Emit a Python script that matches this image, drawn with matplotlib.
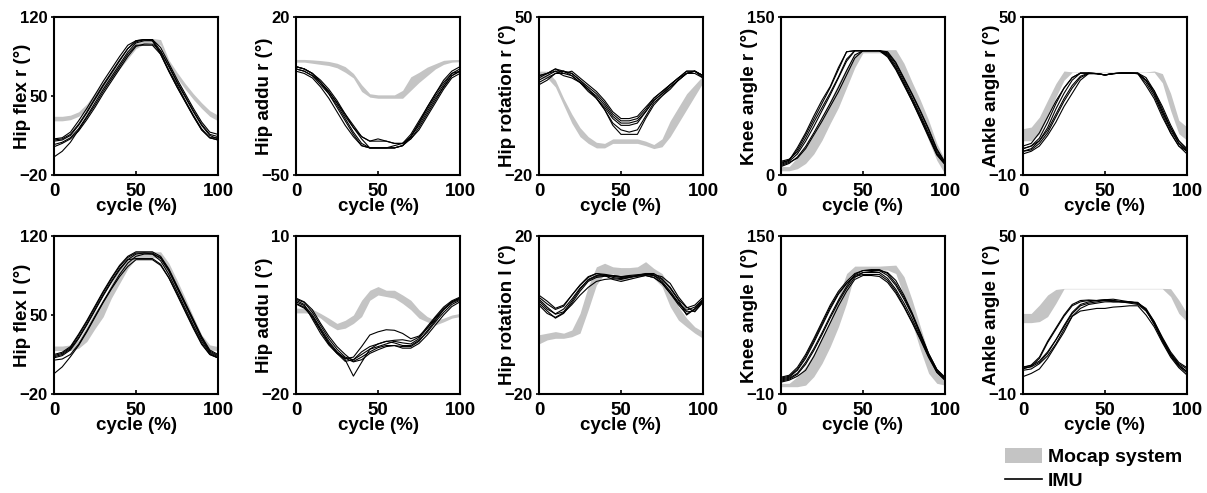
import matplotlib
matplotlib.use("Agg")
import matplotlib.pyplot as plt
from matplotlib.patches import Patch
from matplotlib.lines import Line2D

plt.rcParams['font.family'] = ['Liberation Sans', 'DejaVu Sans']
plt.rcParams['font.weight'] = 'bold'

# gait cycle sample points (%)
cycle = [0, 5, 10, 15, 20, 25, 30, 35, 40, 45, 50, 55, 60, 65, 70, 75, 80, 85, 90, 95, 100]

# ---------------- right side ----------------
hip_flex_r_mocap_lo = [28, 28, 29, 32, 38, 47, 56, 65, 74, 83, 92, 96, 98, 95, 77, 66, 56, 47, 39, 32, 28]
hip_flex_r_mocap_hi = [32, 32, 33, 36, 43, 53, 62, 71, 80, 89, 97, 100, 101, 100, 82, 71, 61, 52, 44, 37, 33]
hip_flex_r_imu = [
    [10, 11, 15, 24, 35, 47, 59, 70, 81, 92, 99, 100, 100, 90, 76, 62, 49, 36, 24, 15, 12],
    [7, 9, 13, 21, 32, 44, 56, 67, 78, 89, 97, 99, 99, 88, 73, 60, 46, 33, 21, 13, 11],
    [12, 13, 18, 28, 39, 51, 63, 74, 85, 95, 99, 100, 99, 87, 72, 58, 45, 32, 20, 13, 13],
    [5, 8, 12, 19, 29, 40, 52, 63, 74, 85, 94, 96, 96, 90, 77, 63, 50, 37, 25, 16, 14],
    [-4, 1, 9, 20, 31, 42, 54, 65, 76, 87, 95, 95, 95, 87, 72, 58, 45, 32, 20, 13, 11],
    [11, 12, 16, 25, 36, 48, 60, 71, 82, 92, 98, 100, 100, 93, 79, 65, 52, 39, 27, 18, 16],
]

hip_addu_r_mocap_lo = [0, 0, -0.5, -1, -1.5, -2.5, -4.5, -7, -13, -15.5, -16, -16, -16, -16, -12.5, -9, -6, -3, -1, 0, 0.2]
hip_addu_r_mocap_hi = [1.2, 1.2, 1, 0.7, 0.3, -0.5, -2, -5, -10, -14, -14.5, -14.5, -14.5, -12.5, -6.5, -4.5, -2.2, -0.7, 0.8, 1.1, 1.2]
hip_addu_r_imu = [
    [-2, -3, -5, -8, -12, -17, -23, -29, -34, -38, -38, -38, -38, -37, -33, -27, -21, -15, -10, -5, -3],
    [-3, -4, -6, -10, -14, -19, -25, -31, -36, -38, -38, -38, -38, -37, -34, -29, -23, -17, -11, -6, -4],
    [-4, -5, -7, -11, -16, -22, -28, -33, -37, -38, -38, -38, -37, -36, -32, -26, -20, -14, -9, -5, -4],
    [-2, -3, -5, -9, -13, -18, -24, -29, -33, -35, -35, -35, -36, -36, -33, -28, -22, -16, -11, -6, -4],
    [-3, -4, -6, -9, -13, -18, -23, -28, -33, -35, -34, -35, -36, -36, -34, -30, -24, -18, -12, -7, -5],
    [-2, -3, -5, -9, -14, -20, -26, -32, -37, -38, -38, -38, -38, -37, -33, -27, -20, -14, -8, -4, -2],
]

hip_rot_r_mocap_lo = [23, 23, 19, 11, 3, -3, -6, -8, -8, -6, -6, -6, -6, -7, -8.3, -7.5, -3, 3, 9, 15, 21]
hip_rot_r_mocap_hi = [26, 26, 22, 14, 7, 1, -3, -5.5, -6, -4, -4, -4, -4, -5, -6.5, -4, 4, 10, 16, 20, 24]
hip_rot_r_imu = [
    [24, 25, 27, 26, 25, 22, 19, 16, 12, 7, 4, 4, 5, 9, 14, 17, 20, 23, 26, 26, 24],
    [22, 24, 26, 26, 24, 21, 18, 15, 11, 6, 3, 3, 4, 8, 13, 16, 19, 22, 25, 26, 24],
    [21, 23, 25, 25, 26, 23, 20, 17, 13, 8, 5, 5, 6, 10, 14, 17, 20, 23, 25, 25, 23],
    [23, 25, 26, 24, 23, 21, 18, 14, 9, 3, 0, -1, 0, 6, 12, 15, 19, 22, 25, 26, 24],
    [20, 22, 25, 26, 25, 22, 18, 14, 9, 2, -2, -2, -2, 5, 11, 15, 18, 22, 25, 26, 24],
    [24, 25, 27, 25, 24, 21, 17, 14, 10, 5, 2, 2, 3, 8, 13, 16, 20, 23, 26, 26, 23],
]

knee_r_mocap_lo = [4, 4, 6, 11, 20, 33, 49, 64, 83, 102, 116, 116, 116, 114, 107, 90, 71, 52, 33, 14, 1]
knee_r_mocap_hi = [8, 8, 17, 27, 39, 55, 71, 87, 102, 115, 119, 119, 119, 119, 119, 106, 88, 71, 52, 30, 14]
knee_r_imu = [
    [12, 14, 24, 38, 53, 68, 83, 100, 117, 118, 118, 118, 118, 117, 107, 92, 77, 61, 44, 25, 12],
    [10, 13, 20, 32, 46, 61, 76, 92, 108, 118, 118, 118, 118, 115, 104, 89, 73, 57, 40, 22, 11],
    [13, 15, 22, 35, 50, 64, 78, 93, 110, 118, 118, 118, 118, 114, 102, 87, 71, 55, 38, 20, 10],
    [8, 11, 17, 27, 40, 54, 68, 83, 99, 114, 118, 118, 118, 112, 100, 85, 70, 54, 37, 20, 11],
    [11, 14, 26, 40, 56, 71, 84, 102, 117, 118, 118, 118, 118, 116, 106, 91, 76, 60, 43, 24, 12],
    [9, 12, 16, 25, 38, 51, 65, 79, 95, 111, 118, 118, 118, 113, 101, 86, 70, 53, 36, 19, 10],
]

ankle_r_mocap_lo = [3, 3, 5.5, 12, 19.5, 26, 29.0, 29.0, 29.0, 29.0, 29.0, 29.0, 29.0, 29.0, 29.0, 29.0, 29.0, 25, 14.5, 5.7, 3.2]
ankle_r_mocap_hi = [7.6, 8.2, 12, 18.4, 24.7, 29.5, 29.15, 29.15, 29.15, 29.15, 29.15, 29.15, 29.15, 29.15, 29.15, 29.15, 29.5, 28.5, 21, 10.8, 8.2]
ankle_r_imu = [
    [0, 1, 4, 10, 17, 23, 27, 28.7, 28.7, 28.5, 28, 28.5, 28.7, 28.7, 28.7, 26, 21, 14, 7, 2, -1],
    [-1, 0, 3, 8, 15, 21, 26, 28.7, 28.7, 28.5, 28, 28.5, 28.7, 28.7, 28.7, 27, 22, 15, 8, 2, -1],
    [1, 2, 6, 12, 18, 23, 27, 28.7, 28.7, 28.5, 28, 28.5, 28.7, 28.7, 28.5, 25, 20, 13, 6, 1, -2],
    [-1, -0.5, 2, 6, 12, 18, 23, 27, 28.5, 28.5, 28, 28.5, 28.7, 28.7, 28.5, 24, 19, 12, 6, 1, -1],
    [0, 1, 3, 7, 13, 19, 24, 27.5, 28.7, 28.5, 28, 28.5, 28.7, 28.7, 28.7, 26, 21, 14, 8, 3, -0.5],
    [-2, -1, 1, 5, 10, 16, 21, 26, 28.5, 28.5, 28, 28.5, 28.7, 28.7, 28.5, 26, 22, 16, 9, 3, 0],
]

# ---------------- left side ----------------
hip_flex_l_mocap_lo = [18.5, 18.5, 18.5, 20.5, 26.5, 38, 48.5, 65, 78, 91, 100, 101, 101, 100, 82.5, 68, 51.5, 37, 23.5, 19, 18.5]
hip_flex_l_mocap_hi = [22.5, 22.5, 23.5, 28, 40, 53, 63, 78, 91, 101.5, 105, 106, 106, 106, 96, 81, 65, 48.5, 32.5, 23.5, 22]
hip_flex_l_imu = [
    [14, 16, 21, 32, 44, 57, 70, 82, 93, 101, 105, 105, 105, 100, 89, 74, 59, 44, 29, 17, 13],
    [12, 14, 19, 29, 41, 54, 67, 79, 90, 99, 104, 105, 104, 98, 86, 71, 56, 41, 27, 16, 12],
    [10, 11, 15, 24, 36, 49, 62, 74, 86, 96, 102, 104, 104, 101, 90, 75, 60, 45, 30, 18, 14],
    [13, 15, 20, 30, 42, 55, 68, 80, 91, 99, 100, 100, 100, 95, 83, 68, 53, 38, 24, 15, 12],
    [-2, 4, 13, 23, 35, 48, 61, 73, 84, 93, 99, 99, 99, 94, 83, 69, 54, 39, 25, 15, 12],
    [15, 17, 22, 33, 45, 58, 71, 83, 94, 102, 106, 106, 106, 102, 91, 76, 61, 46, 31, 19, 15],
]

hip_addu_l_mocap_lo = [-4.6, -4.6, -4.7, -5.6, -6.9, -7.8, -7.5, -6.6, -5.3, -2.2, -1.2, -1.5, -1.8, -2.8, -4, -5.6, -6.3, -6.9, -6.3, -5.6, -5.3]
hip_addu_l_mocap_hi = [-3.7, -3.7, -3.9, -4.7, -5.6, -6.6, -6, -5, -2.2, -0.3, 0.4, -0.3, -0.3, -1.2, -2.2, -4, -5.3, -6, -5.6, -5, -4.7]
hip_addu_l_imu = [
    [-2, -2.6, -4.5, -7, -9.5, -11.5, -13, -13.5, -12.5, -11.5, -11, -10.5, -10, -10.3, -10.5, -9.5, -7.5, -5.5, -3.8, -2.5, -1.8],
    [-1.8, -2.5, -4, -6.6, -9, -11, -12.5, -13.8, -13, -12, -11.2, -10.8, -10.8, -11, -11, -10, -8, -6, -4, -2.7, -2],
    [-2.5, -3.2, -5, -7.5, -10, -12, -13.5, -16.6, -14, -11.5, -10.5, -10, -10.3, -10.8, -10.8, -9.8, -8.3, -6.3, -4.5, -3, -2.2],
    [-2.8, -3.5, -5.5, -8, -10.5, -12.3, -13.8, -13.5, -12, -11, -10.5, -10, -9.8, -9.7, -10, -9.2, -7.2, -5.3, -3.5, -2.3, -1.6],
    [-2.2, -3, -5.8, -8.5, -10.7, -12.3, -13.3, -13, -11, -8.8, -8.2, -7.8, -7.9, -8.5, -9.5, -9, -7.5, -5.8, -4, -2.5, -1.8],
    [-2.9, -3.7, -5.2, -7.8, -10.3, -12, -13.2, -13.9, -13.5, -12.3, -11.6, -11, -10.8, -11.3, -11.3, -10.4, -8.8, -6.9, -5, -3.4, -2.5],
]

hip_rot_l_mocap_lo = [-7.3, -6.3, -5.9, -5.9, -5.5, -4.6, 1.3, 7.6, 10.5, 10.5, 8.6, 9, 9.7, 10.1, 9.3, 7.2, 2.1, -1.3, -3, -4.6, -5.9]
hip_rot_l_mocap_hi = [-5, -4.6, -4.2, -4.6, -3.8, 0.4, 7.2, 12.2, 13.1, 12.2, 12, 12, 12.2, 13.5, 11.8, 10.5, 7.2, 2.1, -0.8, -3, -4.2]
hip_rot_l_imu = [
    [5, 3.5, 1.7, 2.5, 5, 7.5, 9.5, 10.5, 10.3, 10, 9.7, 10, 10.2, 10.4, 10, 9, 7, 4, 1.8, 2.5, 4.5],
    [4, 2, 0.2, 0.8, 3.5, 6.5, 9, 10, 10.2, 9.5, 9.2, 9.5, 10, 10.2, 10, 8.5, 6, 3.2, 1.2, 2, 4],
    [3, 1, -0.8, 0.4, 3, 6, 8.5, 9.5, 9.8, 9.8, 9.5, 9.6, 9.8, 10, 9.5, 8, 5.5, 3, 0.8, 1, 3.5],
    [4.5, 2.8, 1.4, 2.2, 5, 7.6, 9.7, 10.5, 10, 9, 8.5, 9, 9.5, 10, 9.5, 8.2, 5.5, 2.6, 0.2, 1.6, 3.6],
    [2.5, 0.4, -0.6, 0.6, 2.6, 5, 7, 8.5, 9, 9.2, 9, 9.5, 10, 10.3, 10.2, 9.7, 8, 4.6, 2, 0.8, 3.2],
    [3.6, 1.5, 0.3, 1.5, 4, 6.8, 8.8, 9.8, 10, 10, 9.7, 9.8, 10, 10.5, 10.5, 9.2, 6.8, 3.8, 0, 1.5, 3.8],
]

knee_l_mocap_lo = [-2.6, -2.6, -2.6, -1, 7.6, 21, 38, 58, 82, 112, 115.5, 115.5, 115.5, 115.5, 112, 88.6, 61.6, 34.6, 11, 0.8, -1]
knee_l_mocap_hi = [0.8, 0.8, 7.6, 17.7, 31, 48, 65, 88.6, 112, 119.5, 119.5, 119.5, 119.5, 120, 120.5, 108.8, 85, 58, 31, 14, 4.2]
knee_l_imu = [
    [7, 9, 17, 30, 46, 63, 80, 94, 104, 112, 115, 115, 115, 110, 100, 86, 70, 51, 31, 15, 7],
    [5, 7, 14, 26, 42, 59, 76, 91, 102, 110, 113, 113, 113, 107, 96, 82, 66, 48, 29, 14, 6],
    [3, 5, 10, 20, 34, 50, 67, 83, 97, 108, 113, 114, 115, 113, 105, 90, 72, 52, 31, 15, 6],
    [6, 8, 15, 28, 44, 61, 78, 92, 102, 109, 111, 111, 111, 105, 94, 79, 63, 46, 28, 13, 5],
    [4, 6, 11, 22, 36, 52, 69, 85, 99, 111, 115, 116, 116, 112, 102, 88, 71, 50, 29, 12, 4],
    [2, 4, 8, 14, 28, 45, 62, 79, 94, 106, 110, 110, 109, 103, 92, 78, 62, 45, 27, 12, 4],
]

ankle_l_mocap_lo = [17.1, 17.1, 17.5, 19.4, 24.4, 29.95, 29.95, 29.95, 29.95, 29.95, 29.95, 29.95, 29.95, 29.95, 29.95, 29.95, 29.95, 29.95, 27, 20.6, 17.5]
ankle_l_mocap_hi = [20.6, 20.6, 23.8, 27.6, 29.7, 30.1, 30.1, 30.1, 30.1, 30.1, 30.1, 30.1, 30.1, 30.1, 30.1, 30.1, 30.1, 30.1, 30, 25.7, 20.6]
ankle_l_imu = [
    [0, 1, 4, 10, 15, 20, 24, 25.5, 25.7, 25.5, 25.8, 25.5, 25, 24.5, 24, 21.5, 17, 11, 5.5, 1.5, -0.5],
    [-0.5, 0.5, 3.5, 9.5, 14.5, 19.5, 23.5, 25, 25.5, 25.5, 25.5, 25.5, 25, 24.8, 24.5, 22, 17.5, 11.5, 6, 2, 0],
    [0.3, 0.8, 2.5, 6, 10.5, 15.5, 20.5, 23.5, 24.5, 25, 25.5, 25, 25, 25, 24.5, 22, 16.5, 10.5, 5, 1, -1.5],
    [-1, -0.5, 1.5, 4.5, 9, 14.5, 19.5, 22.5, 24, 24.5, 25, 25, 25, 25, 24.5, 22.5, 17.5, 11, 5, 1, -1.5],
    [-3.4, -2.2, -0.5, 3.5, 8.5, 13.5, 19.5, 21.5, 22, 22.5, 22.5, 23, 23.2, 23.5, 23.5, 20, 15.5, 9.5, 4, 0, -2.8],
    [-0.2, 0.3, 2, 5.5, 10.5, 16, 21, 24, 25, 25.5, 25.8, 26, 25.5, 25, 24.8, 22, 16.5, 10, 4.5, 0.5, -2],
]

# panel titles (y labels), limits and y ticks
ylabels = [
    ["Hip flex r (°)", "Hip addu r (°)", "Hip rotation r (°)", "Knee angle r (°)", "Ankle angle r (°)"],
    ["Hip flex l (°)", "Hip addu l (°)", "Hip rotation l (°)", "Knee angle l (°)", "Ankle angle l (°)"],
]
ylims = [
    [(-20, 120), (-50, 20), (-20, 50), (0, 150), (-10, 50)],
    [(-20, 120), (-20, 10), (-20, 20), (-10, 150), (-10, 50)],
]
yticks = [
    [[-20, 50, 120], [-50, 20], [-20, 50], [0, 150], [-10, 50]],
    [[-20, 50, 120], [-20, 10], [-20, 20], [-10, 150], [-10, 50]],
]
xticks = [0, 50, 100]

mocap = [
    [(hip_flex_r_mocap_lo, hip_flex_r_mocap_hi), (hip_addu_r_mocap_lo, hip_addu_r_mocap_hi),
     (hip_rot_r_mocap_lo, hip_rot_r_mocap_hi), (knee_r_mocap_lo, knee_r_mocap_hi),
     (ankle_r_mocap_lo, ankle_r_mocap_hi)],
    [(hip_flex_l_mocap_lo, hip_flex_l_mocap_hi), (hip_addu_l_mocap_lo, hip_addu_l_mocap_hi),
     (hip_rot_l_mocap_lo, hip_rot_l_mocap_hi), (knee_l_mocap_lo, knee_l_mocap_hi),
     (ankle_l_mocap_lo, ankle_l_mocap_hi)],
]
imu = [
    [hip_flex_r_imu, hip_addu_r_imu, hip_rot_r_imu, knee_r_imu, ankle_r_imu],
    [hip_flex_l_imu, hip_addu_l_imu, hip_rot_l_imu, knee_l_imu, ankle_l_imu],
]

W, H = 1207, 493
fig = plt.figure(figsize=(W / 100, H / 100), dpi=100)

MOCAP_COLOR = "#c4c4c4"
col_left = [54, 296, 539, 781, 1023]
row_top = [17, 236]
ax_w, ax_h = 164, 158

for r in range(2):
    for c in range(5):
        ax = fig.add_axes([col_left[c] / W, 1 - (row_top[r] + ax_h) / H, ax_w / W, ax_h / H])
        lo, hi = mocap[r][c]
        ax.fill_between(cycle, lo, hi, color=MOCAP_COLOR, lw=0, zorder=1)
        for trial in imu[r][c]:
            ax.plot(cycle, trial, color="black", lw=0.8, zorder=2)
        ax.set_xlim(0, 100)
        ax.set_ylim(*ylims[r][c])
        ax.set_xticks(xticks)
        ax.set_yticks(yticks[r][c])
        ax.tick_params(axis="x", direction="in", length=3, width=1.2, pad=6, labelsize=13.5)
        ax.tick_params(axis="y", direction="out", length=2.5, width=1.2, pad=2, labelsize=12)
        for lab in ax.get_xticklabels() + ax.get_yticklabels():
            lab.set_fontweight("bold")
        for s in ax.spines.values():
            s.set_linewidth(1.5)
        ax.set_xlabel("cycle (%)", fontsize=13.5, fontweight="bold")
        ax.xaxis.set_label_coords(0.5, -0.145)
        ax.set_ylabel(ylabels[r][c], fontsize=13.5, fontweight="bold")
        ax.yaxis.set_label_coords(-0.14, 0.5)

handles = [Patch(facecolor=MOCAP_COLOR, edgecolor="none"), Line2D([], [], color="black", lw=1.2)]
fig.legend(handles, ["Mocap system", "IMU"], loc="upper left",
           bbox_to_anchor=(1005 / W, 1 - 448 / H), frameon=False,
           prop={"weight": "bold", "size": 14}, handlelength=1.9, handleheight=0.8,
           handletextpad=0.3, labelspacing=0.3, borderpad=0.0, borderaxespad=0.0)

fig.savefig("out.png", dpi=100)
